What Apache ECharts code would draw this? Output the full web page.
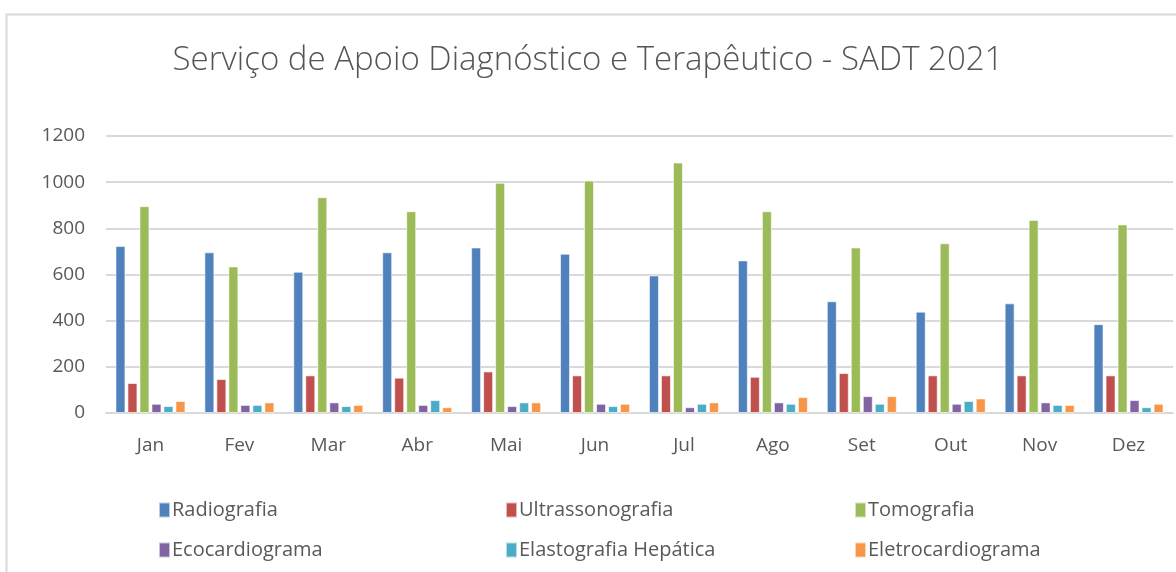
<!DOCTYPE html>
<html>
<head>
<meta charset="utf-8">
<script src="https://cdn.jsdelivr.net/npm/echarts@6/dist/echarts.min.js"></script>
<style>
  html, body { margin: 0; padding: 0; background: #fff; }
  #chart { width: 1176px; height: 572px; }
</style>
</head>
<body>
<div id="chart"></div>
<script>
const months = ['Jan', 'Fev', 'Mar', 'Abr', 'Mai', 'Jun', 'Jul', 'Ago', 'Set', 'Out', 'Nov', 'Dez']
const seriesNames = ['Radiografia', 'Ultrassonografia', 'Tomografia', 'Ecocardiograma', 'Elastografia Hepática', 'Eletrocardiograma']

const radiografia      = [723, 696, 612, 696, 717, 690, 596, 661, 484, 439, 475, 385]
const ultrassonografia = [130, 147, 163, 153, 180, 163, 163, 157, 173, 163, 163, 163]
const tomografia       = [896, 635, 935, 874, 997, 1007, 1085, 874, 717, 735, 836, 817]
const ecocardiograma   = [40, 35, 46, 35, 30, 40, 25, 46, 73, 40, 46, 56]
const elastografia     = [30, 35, 30, 56, 46, 30, 40, 40, 40, 52, 35, 25]
const eletrocardio     = [52, 46, 35, 25, 46, 40, 46, 69, 73, 63, 35, 40]

const yTicks = [0, 200, 400, 600, 800, 1000, 1200]

const COLORS = ['#4F81BD', '#C0504D', '#9BBB59', '#8064A2', '#4BACC6', '#F79646']
const values = [radiografia, ultrassonografia, tomografia, ecocardiograma, elastografia, eletrocardio]
const FONT = '"Open Sans", "Noto Sans", sans-serif'

// legend slots: 3 columns x 2 rows, like the original
const legendPos = [
  { left: 153, top: 495 }, { left: 500, top: 495 }, { left: 849, top: 495 },
  { left: 153, top: 535 }, { left: 500, top: 535 }, { left: 849, top: 535 },
]

const chart = echarts.init(document.getElementById('chart'))
chart.setOption({
  animation: false,
  color: COLORS,
  title: {
    text: 'Serviço de Apoio Diagnóstico e Terapêutico - SADT 2021',
    left: 'center', top: 39,
    textStyle: { fontFamily: FONT, fontWeight: 300, fontSize: 33, color: '#555' },
  },
  graphic: [{
    type: 'rect', left: 4, top: 12, silent: true,
    shape: { width: 1200, height: 600 },
    style: { fill: 'none', stroke: '#d9d9d9', lineWidth: 2 },
  }],
  legend: seriesNames.map((n, i) => ({
    data: [n], left: legendPos[i].left, top: legendPos[i].top,
    itemWidth: 11, itemHeight: 15, itemGap: 0, icon: 'rect',
    textStyle: { fontFamily: FONT, fontSize: 20, color: '#595959', padding: [0, 0, 0, -3] },
    selectedMode: false,
  })),
  grid: { left: 106, right: 3, top: 136, bottom: 159 },
  xAxis: {
    type: 'category', data: months,
    axisLine: { lineStyle: { color: '#d9d9d9', width: 2 } },
    axisTick: { show: false },
    axisLabel: { fontFamily: FONT, fontSize: 19, color: '#595959', margin: 23 },
  },
  yAxis: {
    type: 'value', min: yTicks[0], max: yTicks[yTicks.length - 1], interval: 200,
    axisLine: { show: false }, axisTick: { show: false },
    splitLine: { lineStyle: { color: '#d9d9d9', width: 2 } },
    axisLabel: { fontFamily: FONT, fontSize: 19, color: '#595959', margin: 21, formatter: v => String(v) },
  },
  series: seriesNames.map((n, i) => ({
    name: n, type: 'bar', data: values[i],
    barWidth: 10, barGap: '20%',
    itemStyle: { borderColor: 'rgba(255,255,255,0.6)', borderWidth: 1 },
  })),
})
</script>
</body>
</html>
